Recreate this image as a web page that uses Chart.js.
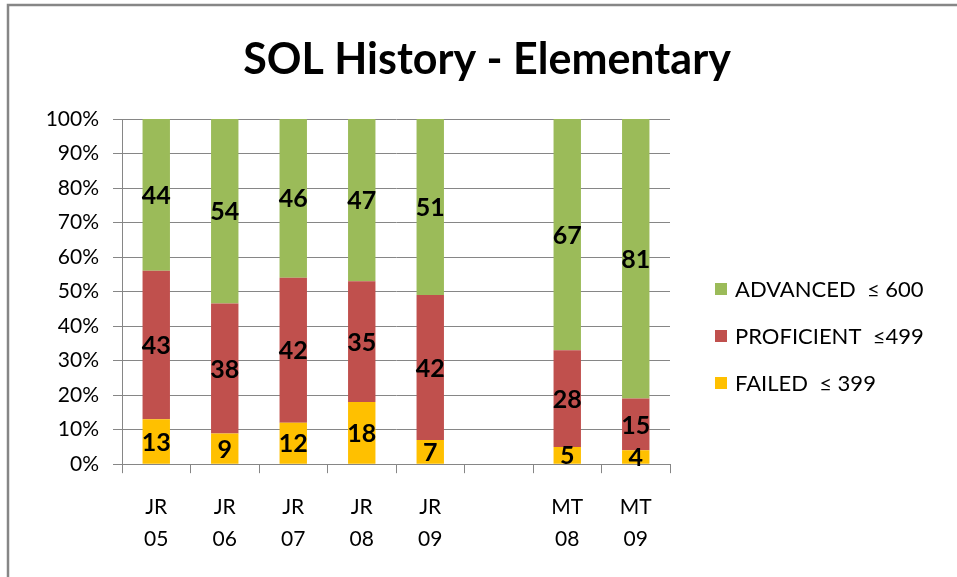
<!DOCTYPE html>
<html>
<head>
<meta charset="utf-8">
<script src="https://cdn.jsdelivr.net/npm/chart.js@4.4.1/dist/chart.umd.min.js"></script>
<style>
    html, body { margin: 0; padding: 0; background: #fff; }
    #wrap { width: 957px; height: 577px; position: relative; }
</style>
</head>
<body>
<div id="wrap"><canvas id="ChartSol" width="957" height="577"></canvas></div>
<script>

/// DADOS DO GRÁFICO

const titulo = 'SOL History - Elementary';
const categorias = [['JR', '05'], ['JR', '06'], ['JR', '07'], ['JR', '08'], ['JR', '09'], '', ['MT', '08'], ['MT', '09']];
const failed = [13, 9, 12, 18, 7, null, 5, 4];
const proficient = [43, 38, 42, 35, 42, null, 28, 15];
const advanced = [44, 54, 46, 47, 51, null, 67, 81];
const y_ticks = [0, 10, 20, 30, 40, 50, 60, 70, 80, 90, 100];

// 100% empilhado: normaliza cada coluna
function percentual(serie, i) {
    const total = (failed[i] || 0) + (proficient[i] || 0) + (advanced[i] || 0);
    if (!total || serie[i] == null) return null;
    return serie[i] / total * 100;
}

const fonte = 'Lato, "Open Sans", sans-serif';

// rótulos de valor no meio de cada segmento
const rotulos = {
    id: 'rotulos',
    afterDatasetsDraw(chart) {
        const ctx = chart.ctx;
        ctx.save();
        ctx.font = 'bold 25px ' + fonte;
        ctx.fillStyle = '#000';
        ctx.textAlign = 'center';
        ctx.textBaseline = 'middle';
        chart.data.datasets.forEach(function (ds, di) {
            const meta = chart.getDatasetMeta(di);
            meta.data.forEach(function (bar, i) {
                const v = ds.valores[i];
                if (v == null) return;
                ctx.fillText(String(v), bar.x, (bar.y + bar.base) / 2 + 1);
            });
        });
        ctx.restore();
    }
};

// título centrado na largura toda + legenda à direita (ordem invertida, como no Excel)
const titulo_legenda = {
    id: 'titulo_legenda',
    afterDraw(chart) {
        const ctx = chart.ctx;
        ctx.save();
        ctx.font = 'bold 43px ' + fonte;
        ctx.fillStyle = '#000';
        ctx.textAlign = 'center';
        ctx.textBaseline = 'middle';
        ctx.fillText(titulo, 487, 60);

        const x = chart.chartArea.right + 45;
        let y = 289;
        ctx.font = '22px ' + fonte;
        ctx.textAlign = 'left';
        chart.data.datasets.slice().reverse().forEach(function (ds) {
            ctx.fillStyle = ds.backgroundColor;
            ctx.fillRect(x, y - 6, 12, 12);
            ctx.fillStyle = '#000';
            ctx.fillText(ds.label, x + 20, y + 1);
            y += 47;
        });
        ctx.restore();
    }
};

// moldura cinza (só esquerda e topo aparecem no recorte)
const moldura = {
    id: 'moldura',
    afterDraw(chart) {
        const ctx = chart.ctx;
        ctx.save();
        ctx.strokeStyle = '#868686';
        ctx.lineWidth = 2.5;
        ctx.beginPath();
        ctx.moveTo(8, 577);
        ctx.lineTo(8, 5);
        ctx.lineTo(957, 5);
        ctx.stroke();
        ctx.restore();
    }
};

const chartSol = document.getElementById('ChartSol');

new Chart(chartSol, {
    type: 'bar',
    data: {
        labels: categorias,
        datasets: [
            {
                label: 'FAILED  \u2264 399',
                data: failed.map(function (v, i) { return percentual(failed, i); }),
                valores: failed,
                backgroundColor: '#FFC000'
            },
            {
                label: 'PROFICIENT  \u2264499',
                data: proficient.map(function (v, i) { return percentual(proficient, i); }),
                valores: proficient,
                backgroundColor: '#C0504D'
            },
            {
                label: 'ADVANCED  \u2264 600',
                data: advanced.map(function (v, i) { return percentual(advanced, i); }),
                valores: advanced,
                backgroundColor: '#9BBB59'
            }
        ]
    },
    options: {
        responsive: false,
        animation: false,
        layout: {
            padding: { left: 10, right: 287, top: 119, bottom: 4 }
        },
        datasets: {
            bar: {
                barPercentage: 0.4,
                categoryPercentage: 1.0
            }
        },
        scales: {
            x: {
                stacked: true,
                grid: {
                    drawOnChartArea: false,
                    color: '#868686',
                    tickLength: 9
                },
                border: { color: '#868686' },
                ticks: {
                    color: '#000',
                    font: { family: fonte, size: 21, lineHeight: 1.52 },
                    padding: 18,
                    maxRotation: 0
                }
            },
            y: {
                stacked: true,
                min: 0,
                max: 100,
                afterBuildTicks: function (scale) {
                    scale.ticks = y_ticks.map(function (v) { return { value: v }; });
                },
                afterFit: function (scale) {
                    scale.width = 112;
                },
                grid: {
                    color: '#868686',
                    tickLength: 9
                },
                border: { color: '#868686' },
                ticks: {
                    color: '#000',
                    font: { family: fonte, size: 21 },
                    padding: 14,
                    callback: function (v) { return v + '%'; }
                }
            }
        },
        plugins: {
            title: { display: false },
            legend: { display: false },
            tooltip: { enabled: false }
        }
    },
    plugins: [rotulos, titulo_legenda, moldura]
});

</script>
</body>
</html>
